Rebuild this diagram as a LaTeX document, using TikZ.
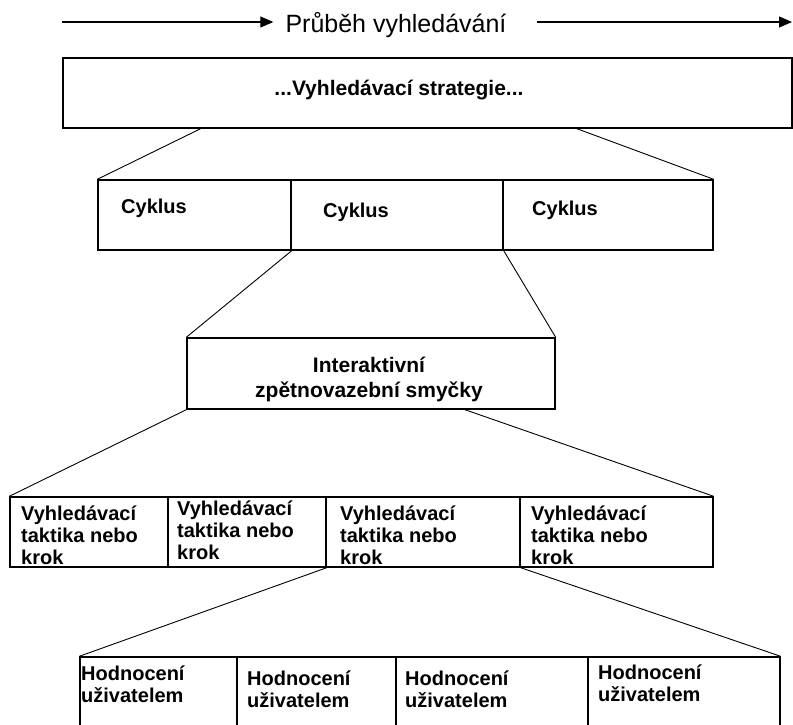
\documentclass[tikz,border=0pt]{standalone}
\usepackage{fontspec}
\setmainfont{Liberation Sans}
\usetikzlibrary{arrows.meta, fit}
\tikzset{
    box/.style = {
        draw,
        line width = 1.4pt,
        inner sep = 0pt
    },
    link/.style = {
        draw,
        line width = 0.9pt
    },
    flow/.style = {
        draw,
        line width = 1.1pt,
        -{Triangle[length=13pt, width=11pt]}
    },
    caption/.style = {
        inner sep = 0pt,
        anchor = north west,
        align = left,
        font = \bfseries\fontsize{20}{22}\selectfont
    }
}

\begin{document}
\begin{tikzpicture}[x=1pt, y=-1pt]
    \useasboundingbox (0,0) rectangle (793,724);
    \clip (0,0) rectangle (793,724);

    % direction of the search
    \node[inner xsep=12pt, inner ysep=0pt, anchor=base, font=\fontsize{25}{29}\selectfont] (progress) at (396,32) {Průběh vyhledávání};
    \coordinate (start) at (62,22);
    \coordinate (finish) at (792,22);
    \draw[flow] (start) -- (progress.west |- start);
    \draw[flow, shorten <=18pt] (progress.east |- finish) -- (finish);

    % strategy
    \node[box, fit={(63,58) (792,128)}] (strategy) {};
    \node[caption, anchor=base, font=\bfseries\fontsize{21}{25}\selectfont] (strategyname) at (399,95) {...Vyhledávací strategie...};

    % cycles
    \foreach \i/\xa/\xb in {1/98/291, 2/291/503, 3/503/713}{
        \node[box, fit={(\xa,180) (\xb,250)}] (cycle\i) {};
    }
    \foreach \i/\x/\y in {1/121/213, 2/323/217, 3/532/215}{
        \node[caption, anchor=base west] (cyclename\i) at (\x,\y) {Cyklus};
    }
    \coordinate (s1) at (202,128);
    \coordinate (s2) at (575,128);
    \draw[link] (s1) -- (cycle1.north west);
    \draw[link] (s2) -- (cycle3.north east);

    % feedback loops
    \node[box, fit={(187,338) (555,409)}] (loop) {};
    \node[caption, anchor=north, align=center, font=\bfseries\fontsize{21}{25}\selectfont] (loopname) at (369,354.5) {\strut Interaktivní\\zpětnovazební smyčky};
    \draw[link] (cycle1.south east) -- (loop.north west);
    \draw[link] (cycle2.south east) -- (loop.north east);

    % tactics
    \foreach \i/\xa/\xb in {1/10/168, 2/168/326, 3/326/520, 4/520/713}{
        \node[box, fit={(\xa,497) (\xb,567)}] (tactic\i) {};
    }
    \foreach \i/\x/\y in {1/21/504.5, 2/177/500, 3/340/505, 4/531/505}{
        \node[caption] (tacticname\i) at (\x,\y) {\strut Vyhledávací\\taktika nebo\\krok};
    }
    \coordinate (l1) at (463,409);
    \draw[link] (loop.south west) -- (tactic1.north west);
    \draw[link] (l1) -- (tactic4.north east);

    % user ratings
    \foreach \i/\xa/\xb in {1/80/237, 2/237/396, 3/396/588, 4/588/780}{
        \node[box, fit={(\xa,657) (\xb,740)}] (rating\i) {};
    }
    \foreach \i/\x/\y in {1/81/665, 2/247/670, 3/405/670, 4/598/664}{
        \node[caption] (ratingname\i) at (\x,\y) {\strut Hodnocení\\uživatelem};
    }
    \draw[link] (tactic2.south east) -- (rating1.north west);
    \draw[link] (tactic3.south east) -- (rating4.north east);
\end{tikzpicture}
\end{document}
